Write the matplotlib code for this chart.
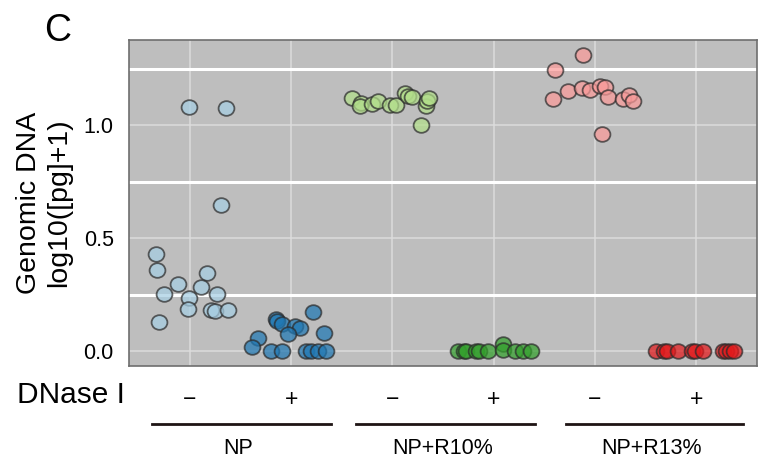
import numpy as np
import matplotlib.pyplot as plt
from matplotlib.path import Path
from matplotlib.transforms import blended_transform_factory

plt.rcParams['font.family'] = ['Liberation Sans', 'DejaVu Sans']

# groups: NP, NP+R10%, NP+R13%, each without (−) / with (+) DNase I
groups = ['NP', 'NP+R10%', 'NP+R13%']
dnase = ['\u2212', '+']
colors = ['#a6cee3', '#1f78b4', '#b2df8a', '#33a02c', '#fb9a99', '#e31a1c']

# horizontal jitter (in category units) and log10([pg]+1) values per condition
np_minus_x = [-0.33, -0.32, -0.12, -0.25, -0.01, 0.17, 0.11, 0.27, -0.02, 0.21, 0.25, 0.38, -0.30, -0.01, 0.36, 0.31]
np_minus_y = [0.43, 0.36, 0.295, 0.254, 0.233, 0.344, 0.283, 0.251, 0.185, 0.182, 0.178, 0.184, 0.129, 1.079, 1.075, 0.648]

np_plus_x = [-0.15, -0.14, -0.09, 0.04, 0.09, -0.03, -0.33, -0.39, -0.20, -0.09, 0.22, 0.33, 0.15, 0.20, 0.27, 0.34]
np_plus_y = [0.144, 0.134, 0.122, 0.113, 0.101, 0.075, 0.060, 0.019, 0, 0, 0.172, 0.079, 0, 0, 0, 0]

r10_minus_x = [-0.40, -0.31, -0.32, -0.20, -0.14, -0.02, 0.04, 0.12, 0.15, 0.19, 0.33, 0.34, 0.36, 0.28]
r10_minus_y = [1.122, 1.098, 1.084, 1.093, 1.109, 1.088, 1.088, 1.143, 1.128, 1.125, 1.084, 1.107, 1.121, 1.0]

r10_plus_x = [-0.35, -0.29, -0.27, -0.17, -0.14, -0.06, 0.09, 0.09, 0.21, 0.29, 0.37]
r10_plus_y = [0, 0, 0, 0, 0, 0, 0.03, 0.006, 0, 0, 0]

r13_minus_x = [-0.12, -0.39, -0.41, -0.27, -0.13, -0.05, 0.05, 0.10, 0.13, 0.28, 0.34, 0.38, 0.07]
r13_minus_y = [1.311, 1.245, 1.117, 1.151, 1.165, 1.157, 1.173, 1.169, 1.125, 1.117, 1.132, 1.106, 0.963]

r13_plus_x = [-0.40, -0.32, -0.29, -0.18, -0.04, -0.01, 0.07, 0.26, 0.29, 0.33, 0.37]
r13_plus_y = [0, 0, 0, 0, 0, 0, 0, 0, 0, 0, 0]

xs = [np_minus_x, np_plus_x, r10_minus_x, r10_plus_x, r13_minus_x, r13_plus_x]
ys = [np_minus_y, np_plus_y, r10_minus_y, r10_plus_y, r13_minus_y, r13_plus_y]

# slightly wide circle marker
circ = Path.unit_circle()
wide_circle = Path(circ.vertices * [1.08, 1.0], circ.codes)

fig = plt.figure(figsize=(7.64, 4.62), dpi=100)
ax = fig.add_axes([129 / 764, 1 - 366 / 462, (757 - 129) / 764, (366 - 40) / 462])
ax.set_facecolor('#bebebe')

for i, (jx, vy) in enumerate(zip(xs, ys)):
    pos = i + 1 + np.array(jx)
    ax.scatter(pos, vy, s=130, marker=wide_circle, color=colors[i], alpha=0.72,
               edgecolors='#2b2b2b', linewidths=1.3, zorder=3)

ax.set_xlim(0.4, 6.6)
ax.set_ylim(-0.066, 1.377)

# grid: thin at labelled breaks, thick in between
ax.set_yticks([0, 0.5, 1.0])
ax.set_yticklabels(['0.0', '0.5', '1.0'], fontsize=15.5)
ax.set_yticks([0.25, 0.75, 1.25], minor=True)
ax.set_xticks(range(1, 7))
ax.set_xticklabels(dnase * 3, fontsize=16.5)
ax.grid(which='major', color='#dcdcdc', linewidth=1.1, zorder=0)
ax.grid(which='minor', axis='y', color='white', linewidth=2.2, zorder=0)
ax.set_axisbelow(True)
ax.tick_params(which='both', length=0)
ax.tick_params(axis='y', pad=11)
ax.tick_params(axis='x', pad=16)
for sp in ax.spines.values():
    sp.set_color('#6e6e6e')
    sp.set_linewidth(1.2)

ax.set_ylabel('Genomic DNA\nlog10([pg]+1)', fontsize=20.5, labelpad=8,
              linespacing=1.2)
fig.text(71 / 764, 1 - 395 / 462, 'DNase I', fontsize=21.5, ha='center', va='center')
fig.text(58 / 764, 1 - 31 / 462, 'C', fontsize=27, ha='center', va='center')

# group brackets below the axis
tr = blended_transform_factory(ax.transData, fig.transFigure)
spans = [(0.625, 2.39), (2.645, 4.41), (4.71, 6.46)]
for (x0, x1), name in zip(spans, groups):
    ax.plot([x0, x1], [1 - 424 / 462] * 2, color='#1e1414', linewidth=2,
            transform=tr, clip_on=False)
    ax.text((x0 + x1) / 2 - 0.03, 1 - 448 / 462, name, fontsize=15.5,
            ha='center', va='center', transform=tr)

fig.savefig('out.png', dpi=100)
